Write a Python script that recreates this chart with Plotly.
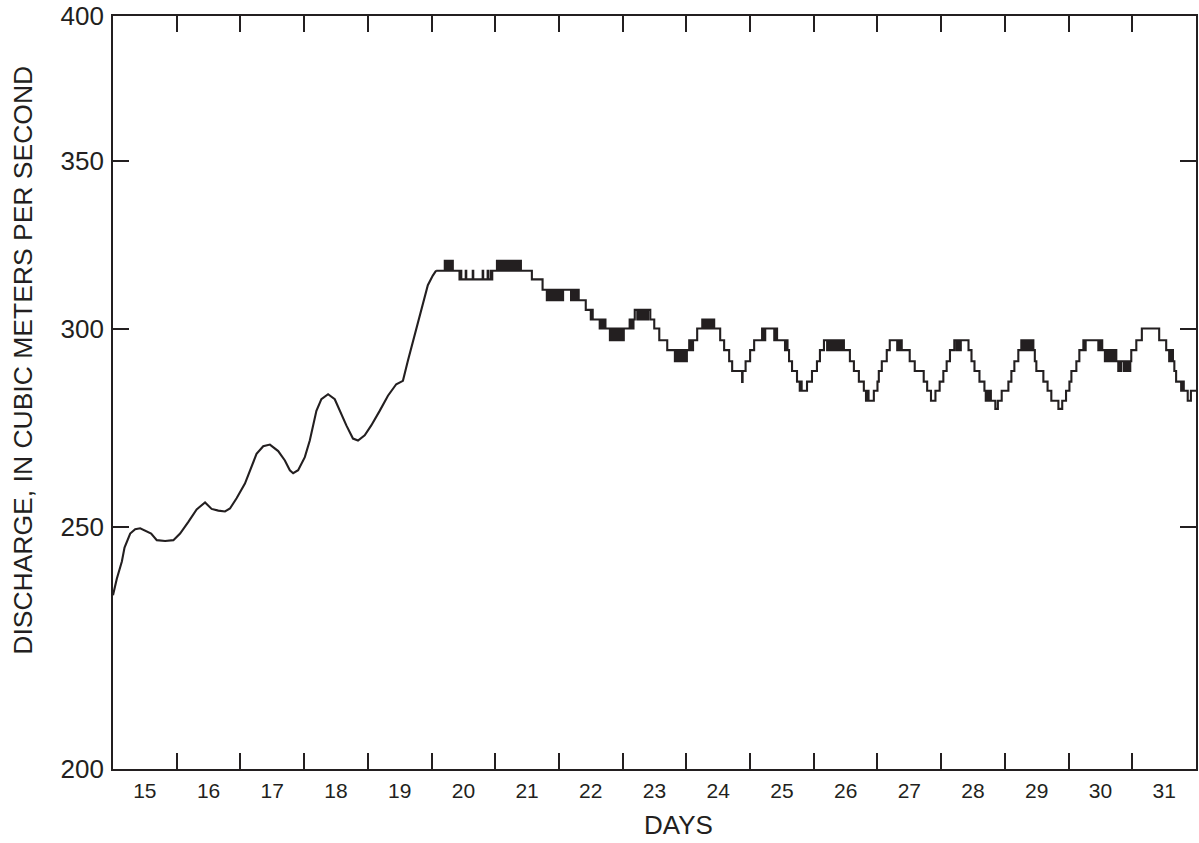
import math
import plotly.graph_objects as go

# ---------------- data ----------------
# Smooth early part of the record (days 15 - 20)
early_days = [15.0, 15.06, 15.139, 15.181, 15.27, 15.348, 15.427, 15.505, 15.599, 15.687,
              15.818, 15.948, 16.053, 16.183, 16.313, 16.445, 16.548, 16.653, 16.758, 16.836,
              16.94, 17.071, 17.175, 17.253, 17.358, 17.463, 17.593, 17.698, 17.776, 17.828,
              17.906, 18.011, 18.089, 18.193, 18.271, 18.376, 18.481, 18.559, 18.663, 18.767,
              18.846, 18.951, 19.054, 19.186, 19.316, 19.446, 19.551, 19.629, 19.734, 19.837,
              19.942, 20.02, 20.072]
early_q = [234.7, 238.3, 242.1, 245.2, 248.4, 249.4, 249.6, 249.0, 248.4, 246.9,
           246.7, 246.9, 248.4, 251.1, 254.0, 255.6, 254.1, 253.7, 253.5, 254.2,
           256.6, 260.1, 264.1, 267.3, 269.2, 269.6, 268.0, 265.7, 263.3, 262.6,
           263.3, 266.5, 270.6, 278.1, 281.1, 282.4, 281.1, 278.1, 274.4, 271.1,
           270.6, 271.9, 274.4, 278.1, 282.0, 285.0, 285.9, 291.2, 298.3, 305.6,
           312.2, 315.0, 316.4]

# Stepped (quantized) later part of the record (days 20 - 32)
late_days = [
    20.072, 20.208, 20.216, 20.232, 20.240, 20.256, 20.264, 20.280, 20.288, 20.304, 20.312, 20.326, 20.334,
    20.439, 20.459, 20.467, 20.537, 20.545, 20.647, 20.655, 20.803, 20.811, 20.881, 20.889, 20.929, 20.945, 20.953,
    21.027, 21.060, 21.068, 21.100, 21.108, 21.140, 21.148, 21.180, 21.188, 21.220, 21.228, 21.260, 21.268,
    21.300, 21.308, 21.340, 21.348, 21.380, 21.388, 21.403, 21.575, 21.743,
    21.810, 21.818, 21.840, 21.848, 21.870, 21.878, 21.900, 21.908, 21.930, 21.938, 21.960, 21.968, 21.990, 21.998,
    22.020, 22.028, 22.057, 22.065, 22.190, 22.198, 22.220, 22.228, 22.250, 22.258, 22.280, 22.288, 22.310,
    22.421, 22.500, 22.508, 22.530, 22.640, 22.648, 22.670, 22.678, 22.700, 22.708, 22.730,
    22.800, 22.808, 22.830, 22.838, 22.860, 22.868, 22.890, 22.898, 22.920, 22.928, 22.950, 22.958, 22.980, 22.988,
    23.010, 23.018,
    23.110, 23.118, 23.140, 23.148, 23.170, 23.190, 23.230, 23.238, 23.270, 23.278, 23.310, 23.318, 23.350, 23.358,
    23.390, 23.398, 23.434, 23.496, 23.575, 23.700,
    23.820, 23.828, 23.850, 23.858, 23.880, 23.888, 23.910, 23.918, 23.940, 23.948, 23.970, 23.978, 24.000, 24.008,
    24.045, 24.053, 24.075, 24.083, 24.105, 24.170,
    24.250, 24.280, 24.288, 24.310, 24.318, 24.340, 24.348, 24.370, 24.378, 24.400, 24.408, 24.437, 24.531, 24.593,
    24.672, 24.719, 24.875, 24.883, 24.930,
    25.001, 25.064, 25.189, 25.200, 25.208, 25.230, 25.238, 25.380, 25.388, 25.410, 25.418, 25.424, 25.549, 25.580,
    25.588, 25.612, 25.659, 25.737, 25.780, 25.788, 25.810, 25.894, 25.972,
    26.050, 26.097, 26.160, 26.210, 26.218, 26.240, 26.248, 26.270, 26.278, 26.300, 26.308, 26.330, 26.338, 26.360,
    26.368, 26.390, 26.398, 26.420, 26.428, 26.450, 26.458, 26.473,
    26.567, 26.630, 26.708, 26.786, 26.820, 26.828, 26.860, 26.943, 27.000, 27.021, 27.068, 27.146, 27.193, 27.310,
    27.318, 27.340, 27.348, 27.381,
    27.506, 27.585, 27.726, 27.780, 27.840, 27.910, 27.976, 28.034, 28.086, 28.138, 28.206, 28.240, 28.248, 28.270,
    28.278, 28.300, 28.308, 28.429,
    28.476, 28.523, 28.601, 28.679, 28.700, 28.708, 28.740, 28.748, 28.780, 28.850, 28.890, 28.950, 29.055, 29.102,
    29.149, 29.211, 29.258,
    29.270, 29.278, 29.300, 29.308, 29.330, 29.338, 29.360, 29.368, 29.390, 29.398, 29.420, 29.428, 29.447, 29.470,
    29.494, 29.604, 29.670, 29.729, 29.840, 29.900, 29.960,
    30.013, 30.044, 30.122, 30.169, 30.232, 30.260, 30.268, 30.467, 30.490, 30.498, 30.520, 30.528,
    30.570, 30.578, 30.600, 30.608, 30.630, 30.638, 30.660, 30.668, 30.690, 30.698, 30.720, 30.728, 30.749, 30.780,
    30.788, 30.820, 30.828, 30.870, 30.878, 30.900, 30.908, 30.930, 30.938, 30.960, 30.968,
    30.984, 31.063, 31.150, 31.422, 31.532, 31.579, 31.600, 31.608, 31.630, 31.638, 31.660, 31.688, 31.767, 31.800,
    31.808, 31.870, 31.920, 32.000,
]
late_q = [
    316.4, 319.3, 316.4, 319.3, 316.4, 319.3, 316.4, 319.3, 316.4, 319.3, 316.4, 319.3, 316.4,
    313.9, 316.4, 313.9, 316.4, 313.9, 316.4, 313.9, 316.4, 313.9, 316.4, 313.9, 316.4, 313.9, 316.4,
    319.3, 316.4, 319.3, 316.4, 319.3, 316.4, 319.3, 316.4, 319.3, 316.4, 319.3, 316.4, 319.3,
    316.4, 319.3, 316.4, 319.3, 316.4, 319.3, 316.4, 313.9, 310.9,
    307.9, 310.9, 307.9, 310.9, 307.9, 310.9, 307.9, 310.9, 307.9, 310.9, 307.9, 310.9, 307.9, 310.9,
    307.9, 310.9, 307.9, 310.9, 307.9, 310.9, 307.9, 310.9, 307.9, 310.9, 307.9, 310.9, 307.9,
    305.2, 302.5, 305.2, 302.5, 300.0, 302.5, 300.0, 302.5, 300.0, 302.5, 300.0,
    296.8, 300.0, 296.8, 300.0, 296.8, 300.0, 296.8, 300.0, 296.8, 300.0, 296.8, 300.0, 296.8, 300.0,
    296.8, 300.0,
    302.5, 300.0, 302.5, 300.0, 302.5, 305.2, 302.5, 305.2, 302.5, 305.2, 302.5, 305.2, 302.5, 305.2,
    302.5, 305.2, 302.5, 300.0, 296.8, 294.1,
    291.1, 294.1, 291.1, 294.1, 291.1, 294.1, 291.1, 294.1, 291.1, 294.1, 291.1, 294.1, 291.1, 294.1,
    296.8, 294.1, 296.8, 294.1, 296.8, 300.0,
    302.5, 300.0, 302.5, 300.0, 302.5, 300.0, 302.5, 300.0, 302.5, 300.0, 302.5, 300.0, 296.8, 294.1,
    291.1, 288.5, 285.6, 288.5, 291.1,
    294.1, 296.8, 300.0, 296.8, 300.0, 296.8, 300.0, 296.8, 300.0, 296.8, 300.0, 296.8, 294.1, 296.8,
    294.1, 291.1, 288.5, 285.7, 283.3, 285.7, 283.3, 285.7, 288.5,
    291.1, 294.1, 296.8, 294.1, 296.8, 294.1, 296.8, 294.1, 296.8, 294.1, 296.8, 294.1, 296.8, 294.1,
    296.8, 294.1, 296.8, 294.1, 296.8, 294.1, 296.8, 294.1,
    291.1, 288.5, 285.7, 283.3, 280.7, 283.3, 280.7, 283.3, 285.7, 288.5, 291.1, 294.1, 296.8, 294.1,
    296.8, 294.1, 296.8, 294.1,
    291.1, 288.5, 285.7, 283.3, 280.7, 283.3, 285.7, 288.5, 291.1, 294.1, 296.8, 294.1, 296.8, 294.1,
    296.8, 294.1, 296.8, 294.1,
    291.1, 288.5, 285.7, 283.3, 280.7, 283.3, 280.7, 283.3, 280.7, 278.6, 280.7, 283.3, 285.7, 288.5,
    291.1, 294.1, 296.8,
    294.1, 296.8, 294.1, 296.8, 294.1, 296.8, 294.1, 296.8, 294.1, 296.8, 294.1, 296.8, 294.1, 291.1,
    288.5, 285.7, 283.3, 280.7, 278.6, 280.7, 283.3,
    285.7, 288.5, 291.1, 294.1, 296.8, 294.1, 296.8, 294.1, 296.8, 294.1, 296.8, 294.1,
    291.1, 294.1, 291.1, 294.1, 291.1, 294.1, 291.1, 294.1, 291.1, 294.1, 291.1, 294.1, 291.1, 288.5,
    291.1, 288.5, 291.1, 288.5, 291.1, 288.5, 291.1, 288.5, 291.1, 288.5, 291.1,
    294.1, 296.8, 300.0, 296.8, 294.1, 291.1, 294.1, 291.1, 294.1, 291.1, 288.5, 285.7, 283.3, 285.7,
    283.3, 280.7, 283.3, 283.3,
]
assert len(late_days) == len(late_q)
assert len(early_days) == len(early_q)

day_boundaries = list(range(16, 32))              # tick marks between days
day_label_pos = [d + 0.5 for d in range(15, 32)]  # label at middle of each day
day_labels = [str(d) for d in range(15, 32)]
y_ticks = [200, 250, 300, 350, 400]
y_ticktext = ["200", "250", "300", "350", "400"]

# ---------------- figure ----------------
INK = "#231f20"
FONT = "Liberation Sans, Arial, Helvetica, sans-serif"
EPS = 1e-5

fig = go.Figure()
fig.add_trace(go.Scatter(x=early_days, y=early_q, mode="lines", xaxis="x2", yaxis="y",
                         line=dict(color=INK, width=2.1), showlegend=False, hoverinfo="skip"))
fig.add_trace(go.Scatter(x=late_days, y=late_q, mode="lines", xaxis="x", yaxis="y",
                         line=dict(color=INK, width=2.1, shape="hv"), showlegend=False, hoverinfo="skip"))

fig.update_layout(
    width=1199, height=843,
    margin=dict(l=113, r=1, t=14, b=74),
    paper_bgcolor="white", plot_bgcolor="white",
    font=dict(family=FONT, color=INK),
    xaxis=dict(range=[15, 32], tickmode="array", tickvals=day_boundaries,
               ticks="inside", ticklen=16, tickwidth=1.5, tickcolor=INK,
               showticklabels=False, showline=True, linecolor=INK, linewidth=1.6,
               mirror="ticks", showgrid=False, zeroline=False, fixedrange=True),
    xaxis2=dict(overlaying="x", anchor="y", side="bottom", range=[15, 32],
                tickmode="array", tickvals=day_label_pos, ticktext=day_labels,
                ticks="", showline=False, showgrid=False, zeroline=False,
                ticklabeloverflow="allow",
                tickfont=dict(family=FONT, size=21, color=INK), ticklabelstandoff=7),
    yaxis=dict(type="log", range=[math.log10(200) - EPS, math.log10(400) + EPS],
               tickmode="array", tickvals=y_ticks, ticktext=y_ticktext,
               ticks="inside", ticklen=16, tickwidth=1.5, tickcolor=INK,
               showline=True, linecolor=INK, linewidth=1.6, mirror="ticks",
               showgrid=False, zeroline=False, ticklabeloverflow="allow",
               tickfont=dict(family=FONT, size=26, color=INK), ticklabelstandoff=2),
    annotations=[
        dict(text="DISCHARGE, IN CUBIC METERS PER SECOND", textangle=-90,
             xref="paper", yref="paper", x=-0.0833, y=0.5432,
             xanchor="center", yanchor="middle", showarrow=False,
             font=dict(family=FONT, size=26.5, color=INK)),
        dict(text="DAYS", xref="paper", yref="paper", x=0.5226, y=-0.0745,
             xanchor="center", yanchor="middle", showarrow=False,
             font=dict(family=FONT, size=26, color=INK)),
    ],
)

fig.write_html("out.html", config={"displayModeBar": False},
               post_script="document.body.style.margin='0px';")
